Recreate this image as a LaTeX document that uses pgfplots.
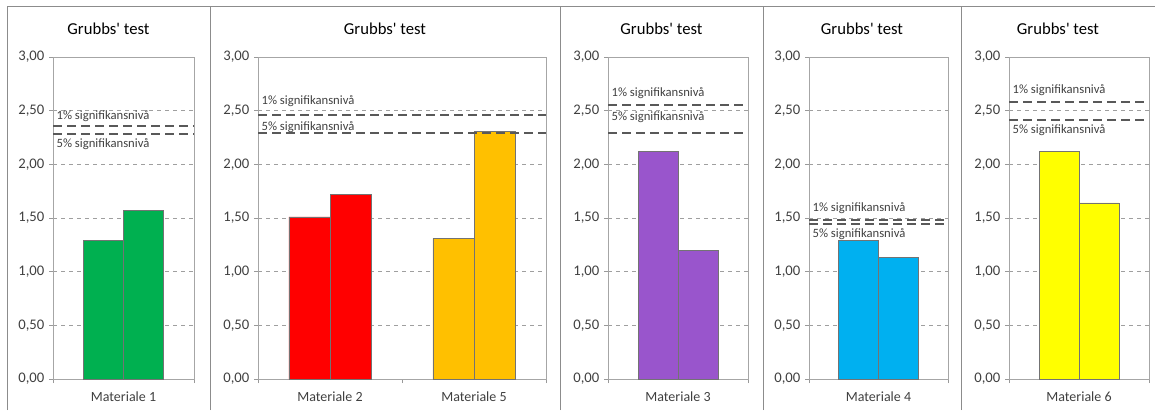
\documentclass[border=0pt]{standalone}
\usepackage{pgfplots}
\pgfplotsset{compat=1.18}
\usepackage{fontspec}
\setmainfont{Carlito}
\definecolor{txt}{HTML}{404040}
\definecolor{thr}{HTML}{595959}
\definecolor{cGreen}{HTML}{00B050}
\definecolor{cRed}{HTML}{FF0000}
\definecolor{cOrange}{HTML}{FFC000}
\definecolor{cPurple}{HTML}{9955CC}
\definecolor{cBlue}{HTML}{00B0F0}
\definecolor{cYellow}{HTML}{FFFF00}
\definecolor{frm}{HTML}{8C8C8C}
\tikzset{ann/.style={anchor=west, font=\fontsize{9.5}{11}\selectfont, text=txt, inner sep=0pt, xshift=2.5pt}}
\pgfplotsset{
  panel/.style={
    scale only axis, height=241.5pt,
    anchor=south west,
    ymin=0, ymax=3,
    ytick={0,0.5,1,1.5,2,2.5,3},
    /pgf/number format/assume math mode=true,
    yticklabel style={/pgf/number format/fixed, /pgf/number format/fixed zerofill, /pgf/number format/precision=2, /pgf/number format/use comma},
    y tick label style={font=\fontsize{11}{13}\selectfont, text=txt, xshift=0pt},
    x tick label style={font=\fontsize{10.5}{12}\selectfont, text=txt, yshift=-6pt},
    ymajorgrids, grid style={dashed, draw=gray!75, line width=0.5pt},
    axis line style={draw=gray!70, line width=0.6pt},
    ytick pos=left, xtick pos=bottom,
    tick align=outside, major tick length=3pt,
    tick style={draw=gray!80, line width=0.6pt},
    xticklabels={},
    extra x tick style={major tick length=0pt, grid=none},
    clip=false,
  },
  bars/.style={ybar, bar width=0.285, bar shift=0pt, draw=gray!90!black, line width=0.6pt, fill=#1},
  thresh/.style={draw=thr, line width=1.5pt, dash pattern=on 6.75pt off 3.75pt, mark=none, forget plot},
}
\begin{document}
\begin{tikzpicture}[x=0.75pt, y=0.75pt]
\useasboundingbox (0,0) rectangle (1155,410);
% frames
\draw[frm, line width=0.75pt] (7,0) -- (7,403) -- (1155,403);
\foreach \xx in {210,560,763,961} \draw[frm, line width=0.75pt] (\xx,0) -- (\xx,403);
% titles
\foreach \cx in {108.5,385,661.5,862,1058} \node[font=\fontsize{12.5}{15}\selectfont, text=black] at (\cx,381) {Grubbs\textquotesingle\ test};

% Panel 1
\begin{axis}[panel, at={(39.75pt,23.25pt)}, width=105.75pt, xmin=-0.5, xmax=0.5,
  xtick={-0.5,0.5}, extra x ticks={0}, extra x tick labels={Materiale 1}]
\addplot[bars=cGreen] coordinates {(-0.1425,1.29) (0.1425,1.57)};
\addplot[thresh] coordinates {(-0.5,2.36) (0.5,2.36)};
\addplot[thresh] coordinates {(-0.5,2.28) (0.5,2.28)};
\node[ann] at (axis cs:-0.5,2.45) {1\% signifikansnivå};
\node[ann] at (axis cs:-0.5,2.19) {5\% signifikansnivå};
\end{axis}

% Panel 2
\begin{axis}[panel, at={(193.5pt,23.25pt)}, width=216pt, xmin=-0.5, xmax=1.5,
  xtick={-0.5,0.5,1.5}, extra x ticks={0,1}, extra x tick labels={Materiale 2,Materiale 5}]
\addplot[bars=cRed] coordinates {(-0.1425,1.51) (0.1425,1.72)};
\addplot[bars=cOrange] coordinates {(0.8575,1.31) (1.1425,2.31)};
\addplot[thresh] coordinates {(-0.5,2.46) (1.5,2.46)};
\addplot[thresh] coordinates {(-0.5,2.29) (1.5,2.29)};
\node[ann] at (axis cs:-0.5,2.59) {1\% signifikansnivå};
\node[ann] at (axis cs:-0.5,2.35) {5\% signifikansnivå};
\end{axis}

% Panel 3
\begin{axis}[panel, at={(456pt,23.25pt)}, width=105pt, xmin=-0.5, xmax=0.5,
  xtick={-0.5,0.5}, extra x ticks={0}, extra x tick labels={Materiale 3}]
\addplot[bars=cPurple] coordinates {(-0.1425,2.12) (0.1425,1.20)};
\addplot[thresh] coordinates {(-0.5,2.55) (0.5,2.55)};
\addplot[thresh] coordinates {(-0.5,2.29) (0.5,2.29)};
\node[ann] at (axis cs:-0.5,2.66) {1\% signifikansnivå};
\node[ann] at (axis cs:-0.5,2.44) {5\% signifikansnivå};
\end{axis}

% Panel 4
\begin{axis}[panel, at={(606.75pt,23.25pt)}, width=104.25pt, xmin=-0.5, xmax=0.5,
  xtick={-0.5,0.5}, extra x ticks={0}, extra x tick labels={Materiale 4}]
\addplot[bars=cBlue] coordinates {(-0.1425,1.29) (0.1425,1.13)};
\addplot[thresh] coordinates {(-0.5,1.48) (0.5,1.48)};
\addplot[thresh] coordinates {(-0.5,1.44) (0.5,1.44)};
\node[ann] at (axis cs:-0.5,1.59) {1\% signifikansnivå};
\node[ann] at (axis cs:-0.5,1.35) {5\% signifikansnivå};
\end{axis}

% Panel 5
\begin{axis}[panel, at={(756.75pt,23.25pt)}, width=105pt, xmin=-0.5, xmax=0.5,
  xtick={-0.5,0.5}, extra x ticks={0}, extra x tick labels={Materiale 6}]
\addplot[bars=cYellow] coordinates {(-0.1425,2.12) (0.1425,1.64)};
\addplot[thresh] coordinates {(-0.5,2.58) (0.5,2.58)};
\addplot[thresh] coordinates {(-0.5,2.41) (0.5,2.41)};
\node[ann] at (axis cs:-0.5,2.69) {1\% signifikansnivå};
\node[ann] at (axis cs:-0.5,2.32) {5\% signifikansnivå};
\end{axis}
\end{tikzpicture}
\end{document}
